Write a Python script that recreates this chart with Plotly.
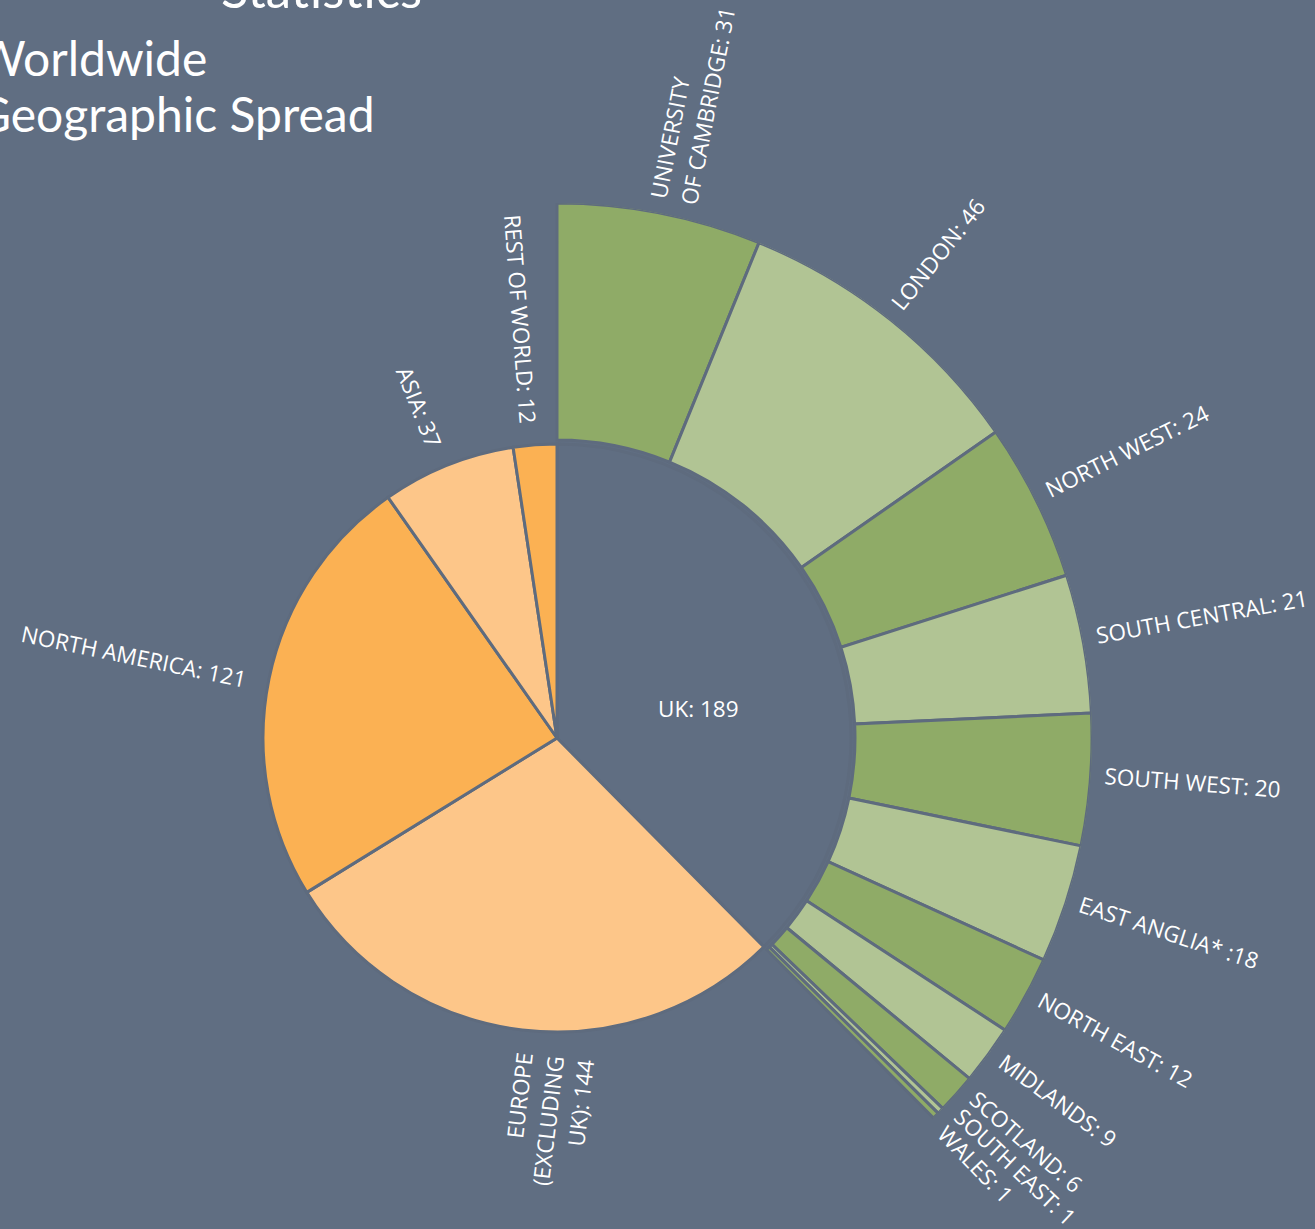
import math
import plotly.graph_objects as go

# ---------------- data ----------------
regions = ["UK", "EUROPE (EXCLUDING UK)", "NORTH AMERICA", "ASIA", "REST OF WORLD"]
region_values = [189, 144, 121, 37, 12]
region_labels = ["UK: 189", "EUROPE<br>(EXCLUDING<br>UK): 144", "NORTH AMERICA: 121",
                 "ASIA: 37", "REST OF WORLD: 12"]

uk_regions = ["UNIVERSITY OF CAMBRIDGE", "LONDON", "NORTH WEST", "SOUTH CENTRAL",
              "SOUTH WEST", "EAST ANGLIA*", "NORTH EAST", "MIDLANDS", "SCOTLAND",
              "SOUTH EAST", "WALES"]
uk_values = [31, 46, 24, 21, 20, 18, 12, 9, 6, 1, 1]
uk_labels = ["UNIVERSITY<br>OF CAMBRIDGE: 31", "LONDON: 46", "NORTH WEST: 24",
             "SOUTH CENTRAL: 21", "SOUTH WEST: 20", "EAST ANGLIA* :18", "NORTH EAST: 12",
             "MIDLANDS: 9", "SCOTLAND: 6", "SOUTH EAST: 1", "WALES: 1"]

title_lines = ["Worldwide", "Geographic Spread"]
heading = "Statistics"

# ---------------- style ----------------
W, H = 1315, 1229
BG = "#606e82"
LINE = "#5e6b7e"
DARK_GREEN = "#8fab67"
LIGHT_GREEN = "#b1c494"
ORANGE = "#fbb153"
LIGHT_ORANGE = "#fdc689"
LABEL_FONT = dict(family="Open Sans, Noto Sans, sans-serif", size=22.5, color="#ffffff")
TITLE_FONT = dict(family="Lato, sans-serif", size=48, color="#ffffff")

CX, CY = 557, 738          # centre of the wheel in pixels
R_PIE = 294                # outer radius of the region pie
R_PIE_DOM = 300            # radius of the pie's polar domain
R_IN, R_OUT = 298, 535     # UK ring
R_LABEL_OUT = 549          # where outward labels start
R_LABEL_IN = 316           # where inward labels end
LINE_STEP = 31             # spacing of label lines
LABEL_SHIFT = 5            # counter-clockwise nudge of labels (px)
MIN_GAP = 2.4              # minimum angular gap between outer labels (deg)

total = sum(region_values)
deg = 360.0 / total

reg_start, acc = [], 0.0
for v in region_values:
    reg_start.append(acc)
    acc += v * deg
reg_width = [v * deg for v in region_values]
reg_theta = [s + w / 2 for s, w in zip(reg_start, reg_width)]

uk_start, acc = [], reg_start[0]
for v in uk_values:
    uk_start.append(acc)
    acc += v * deg
uk_width = [v * deg for v in uk_values]
uk_theta = [s + w / 2 for s, w in zip(uk_start, uk_width)]
uk_end = reg_start[0] + reg_width[0]

reg_colors = [BG, LIGHT_ORANGE, ORANGE, LIGHT_ORANGE, ORANGE]
uk_colors = [DARK_GREEN if i % 2 == 0 else LIGHT_GREEN for i in range(len(uk_values))]


def sector_bbox(s0, s1):
    """Port of plotly.js computeSectorBBox."""
    arc = s1 - s0
    a0 = s0 % 360
    a1 = a0 + arc
    ax0, ay0 = math.cos(math.radians(a0)), math.sin(math.radians(a0))
    ax1, ay1 = math.cos(math.radians(a1)), math.sin(math.radians(a1))
    if (a0 <= 90 and a1 >= 90) or (a0 > 90 and a1 >= 450):
        y1 = 1
    elif ay0 <= 0 and ay1 <= 0:
        y1 = 0
    else:
        y1 = max(ay0, ay1)
    if (a0 <= 180 and a1 >= 180) or (a0 > 180 and a1 >= 540):
        x0 = -1
    elif ax0 >= 0 and ax1 >= 0:
        x0 = 0
    else:
        x0 = min(ax0, ax1)
    if (a0 <= 270 and a1 >= 270) or (a0 > 270 and a1 >= 630):
        y0 = -1
    elif ay0 >= 0 and ay1 >= 0:
        y0 = 0
    else:
        y0 = min(ay0, ay1)
    if a1 >= 360:
        x1 = 1
    elif ax0 <= 0 and ax1 <= 0:
        x1 = 0
    else:
        x1 = max(ax0, ax1)
    return x0, y0, x1, y1


# ring subplot: only the UK sector, so its bounding box fits the page
sector = [90 - uk_end - 1.5, 90 + 1.5]
bx0, by0, bx1, by1 = sector_bbox(*sector)
ring_dom_x = [(CX + bx0 * R_OUT) / W, (CX + bx1 * R_OUT) / W]
ring_dom_y = [1 - (CY - by0 * R_OUT) / H, 1 - (CY - by1 * R_OUT) / H]

fig = go.Figure()
fig.add_trace(go.Barpolar(
    r=[R_OUT - R_IN] * len(uk_values), base=[R_IN] * len(uk_values),
    theta=uk_theta, width=uk_width, text=uk_regions, subplot="polar",
    marker=dict(color=uk_colors, line=dict(color=LINE, width=3)),
    hoverinfo="text", showlegend=False))
fig.add_trace(go.Scatterpolar(r=[0], theta=[0], mode="markers", cliponaxis=False,
                              subplot="polar", marker=dict(opacity=0),
                              hoverinfo="skip", showlegend=False))
fig.add_trace(go.Barpolar(
    r=[R_PIE] * len(region_values), base=[0] * len(region_values),
    theta=reg_theta, width=reg_width, text=regions, subplot="polar2",
    marker=dict(color=reg_colors, line=dict(color=LINE, width=3)),
    hoverinfo="text", showlegend=False))


def px(x, y):
    return x / W, 1 - y / H


def spread(angles, gap):
    a = list(angles)
    for _ in range(500):
        moved = False
        for i in range(len(a) - 1):
            g = a[i + 1] - a[i]
            if g < gap - 1e-6:
                d = (gap - g) / 2
                a[i] -= d
                a[i + 1] += d
                moved = True
        if not moved:
            break
    return a


def radial_label(label, theta, outward):
    t = math.radians(theta)
    ux, uy = math.sin(t), -math.cos(t)          # outward radial unit
    cx_, cy_ = -math.cos(t), -math.sin(t)       # counter-clockwise unit
    if outward:
        ang = theta - 90
        r = R_LABEL_OUT
    else:
        ang = theta - 270
        r = R_LABEL_IN
    a = math.radians(ang)
    dx, dy = -math.sin(a), math.cos(a)
    bx = CX + r * ux + LABEL_SHIFT * cx_
    by = CY + r * uy + LABEL_SHIFT * cy_
    for k, line in enumerate(label.split("<br>")):
        hidden = '<span style="color:rgba(0,0,0,0)">%s</span>' % line
        txt = hidden + line if outward else line + hidden
        x, y = px(bx + k * LINE_STEP * dx, by + k * LINE_STEP * dy)
        fig.add_annotation(x=x, y=y, xref="paper", yref="paper", text=txt,
                           showarrow=False, textangle=ang, xanchor="center",
                           yanchor="middle", font=LABEL_FONT)


for lab, th in zip(uk_labels, spread(uk_theta, MIN_GAP)):
    radial_label(lab, th, True)
for lab, th in zip(region_labels[1:], reg_theta[1:]):
    radial_label(lab, th, False)

x, y = px(698, 708)
fig.add_annotation(x=x, y=y, xref="paper", yref="paper", text=region_labels[0],
                   showarrow=False, xanchor="center", yanchor="middle", font=LABEL_FONT)

# titles
for line, yc in zip(title_lines, [57, 113]):
    x, y = px(-26, yc)
    fig.add_annotation(x=x, y=y, xref="paper", yref="paper", text=line,
                       showarrow=False, xanchor="left", yanchor="middle", align="left",
                       font=TITLE_FONT)
x, y = px(321, -12)
fig.add_annotation(x=x, y=y, xref="paper", yref="paper", text=heading,
                   showarrow=False, xanchor="center", yanchor="middle",
                   font=dict(family="Lato, sans-serif", size=51, color="#ffffff"))

hidden_axis = dict(rotation=90, direction="clockwise", visible=False,
                   showgrid=False, showline=False, showticklabels=False)
fig.update_layout(
    width=W, height=H, margin=dict(l=0, r=0, t=0, b=0, pad=0),
    paper_bgcolor=BG, plot_bgcolor=BG, showlegend=False,
    polar=dict(
        domain=dict(x=ring_dom_x, y=ring_dom_y), sector=sector,
        bgcolor="rgba(0,0,0,0)", bargap=0,
        radialaxis=dict(range=[0, R_OUT], visible=False),
        angularaxis=hidden_axis,
    ),
    polar2=dict(
        domain=dict(x=[(CX - R_PIE_DOM) / W, (CX + R_PIE_DOM) / W],
                    y=[1 - (CY + R_PIE_DOM) / H, 1 - (CY - R_PIE_DOM) / H]),
        bgcolor="rgba(0,0,0,0)", bargap=0,
        radialaxis=dict(range=[0, R_PIE_DOM], visible=False),
        angularaxis=hidden_axis,
    ),
)

fig.write_html(
    "out.html",
    config={"displayModeBar": False},
    post_script="document.documentElement.style.margin='0';"
                "document.body.style.margin='0';"
                "document.body.style.overflow='hidden';",
)
